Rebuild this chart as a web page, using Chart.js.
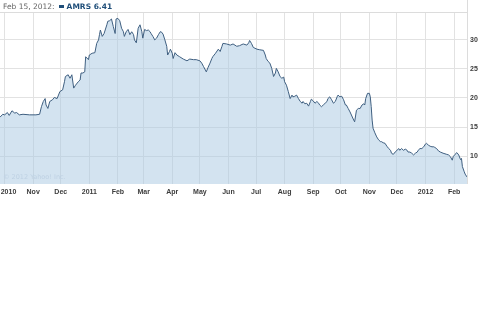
<!DOCTYPE html>
<html>
<head>
<meta charset="utf-8">
<script src="https://cdn.jsdelivr.net/npm/chart.js@4/dist/chart.umd.min.js"></script>
<style>
  body { margin: 0; background: #fff; width: 480px; height: 323px; overflow: hidden; font-family: "DejaVu Sans", Verdana, sans-serif; }
  #wrap { position: relative; width: 480px; height: 200px; }
  #head { position: absolute; left: 3px; top: 2px; font-size: 7.5px; color: #666; white-space: nowrap; }
  #head .sq { display: inline-block; width: 5px; height: 3px; background: #1f4e79; margin: 0 3px 1px 4px; vertical-align: middle; }
  #head b { color: #1f4e79; }
  #copy { position: absolute; left: 3px; top: 173px; font-size: 6.5px; color: #bed1e3; }
</style>
</head>
<body>
<div id="wrap">
  <canvas id="stockChart" width="480" height="200"></canvas>
  <div id="head">Feb 15, 2012:<span class="sq"></span><b>AMRS 6.41</b></div>
  <div id="copy">© 2012 Yahoo! Inc.</div>
</div>
<script>
// Days since 2010-10-01 and closing prices
var days = [-5, -2, 0, 3, 5, 8, 11, 13, 16, 20, 27, 34, 38, 40, 42, 44, 45, 47, 49, 52, 54, 57, 60, 63, 65, 66, 69, 71, 73, 75, 77, 80, 82, 83, 85, 87, 88, 91, 92, 95, 98, 100, 102, 103, 104, 106, 108, 111, 112, 114, 116, 118, 120, 121, 123, 125, 127, 129, 130, 132, 134, 136, 138, 140, 141, 143, 145, 147, 149, 150, 152, 154, 156, 158, 159, 161, 163, 165, 167, 169, 170, 172, 174, 176, 177, 179, 180, 182, 183, 185, 187, 190, 194, 198, 201, 205, 208, 212, 214, 216, 219, 221, 223, 225, 226, 229, 232, 234, 236, 237, 241, 245, 248, 252, 255,
  259, 263, 265, 266, 268, 270, 274, 277, 281, 283, 284, 286, 288, 290, 292, 294, 295, 297, 299, 301, 303, 304, 306, 308, 310, 312, 313, 315, 317, 319, 321, 323, 324, 326, 328, 330, 332, 333, 335, 337, 339, 341, 342, 344, 346, 348, 350, 351, 353, 355, 357, 359, 361, 362, 364, 366, 368, 370, 371, 373, 375, 377, 379, 380, 382, 384, 386, 388, 390, 391, 392, 394, 396, 397, 398, 399, 400, 402, 404, 406, 408, 409, 411, 413, 415, 417, 419, 420, 422, 424, 426, 428, 429, 431, 433, 435, 437, 438, 440, 442, 444, 446, 448, 449, 451, 453, 455, 457, 458, 460, 462, 464, 466, 467, 469, 471, 473, 476, 480, 482, 484, 486, 487, 489, 491, 493, 495, 496, 497, 499, 500, 502];
var prices = [16.7, 17.2, 17.1, 17.5, 17.0, 17.8, 17.4, 17.5, 17.1, 17.2, 17.1, 17.1, 17.2, 18.5, 19.4, 19.9, 18.8, 18.2, 19.4, 19.7, 20.1, 19.9, 21.1, 21.4, 22.8, 23.7, 24.0, 23.4, 24.0, 21.7, 22.2, 22.8, 23.1, 24.3, 24.3, 24.5, 27.1, 26.6, 27.4, 27.7, 27.8, 29.4, 30.0, 30.9, 31.7, 30.6, 31.1, 32.6, 33.2, 33.3, 33.6, 32.3, 31.1, 33.6, 33.7, 33.3, 32.0, 31.4, 30.6, 31.4, 31.8, 30.9, 31.4, 30.9, 30.0, 29.5, 32.0, 32.6, 31.4, 30.3, 31.8, 31.6, 31.7, 31.4, 31.1, 30.6, 30.0, 30.3, 30.9, 31.4, 31.4, 31.0, 30.0, 28.9, 27.4, 28.0, 28.4, 27.7, 26.8, 27.8, 27.4, 27.1, 26.7, 26.4, 26.7, 26.6, 26.6, 26.4, 26.0, 25.4, 24.5, 25.3, 26.0, 26.8, 27.1, 27.7, 28.4, 28.0, 28.9, 29.4, 29.3, 29.1, 29.3, 28.9, 29.0,
  29.3, 29.1, 29.5, 29.9, 29.4, 28.7, 28.4, 28.3, 28.2, 27.4, 26.8, 26.3, 26.0, 25.1, 23.7, 24.3, 25.1, 24.5, 23.7, 23.4, 23.6, 22.8, 22.2, 21.1, 19.9, 20.5, 20.2, 20.3, 20.5, 19.9, 19.4, 19.1, 19.4, 19.0, 19.1, 18.6, 19.4, 19.8, 19.5, 19.1, 19.4, 19.1, 18.8, 18.5, 18.8, 19.1, 19.4, 19.9, 20.2, 19.7, 19.1, 19.4, 20.2, 20.5, 20.2, 20.3, 19.7, 18.8, 18.8, 18.2, 17.6, 16.9, 16.2, 15.9, 17.9, 18.2, 18.2, 18.8, 19.0, 18.8, 19.9, 20.8, 20.8, 20.2, 18.5, 16.2, 14.8, 14.0, 13.3, 12.8, 12.5, 12.5, 12.3, 12.2, 11.7, 11.3, 11.0, 10.5, 10.3, 10.7, 11.0, 11.3, 11.0, 11.3, 11.0, 11.2, 11.0, 10.7, 10.7, 10.5, 10.2, 10.5, 10.7, 11.0, 11.3, 11.3, 11.6, 12.1, 12.2, 11.9, 11.7, 11.6, 11.6, 11.5, 11.3, 10.9, 10.7, 10.5, 10.3, 10.2, 9.9, 9.3, 9.9, 10.3, 10.6, 10.2, 9.4, 9.6, 8.2, 7.3, 6.9, 6.41];

// Month ticks (days since 2010-10-01) and their labels
var monthDays = [0, 31, 61, 92, 123, 151, 182, 212, 243, 273, 304, 335, 365, 396, 426, 457, 488];
var monthLabels = ["2010", "Nov", "Dec", "2011", "Feb", "Mar", "Apr", "May", "Jun", "Jul", "Aug", "Sep", "Oct", "Nov", "Dec", "2012", "Feb"];
var priceTicks = [10, 15, 20, 25, 30];

var points = days.map(function (d, i) { return { x: d, y: prices[i] }; });

// Light frame round the plot area
var framePlugin = {
    id: "frame",
    afterDraw: function (chart) {
        var a = chart.chartArea, ctx = chart.ctx;
        ctx.save();
        ctx.strokeStyle = "#dcdcdc";
        ctx.lineWidth = 1;
        ctx.beginPath();
        ctx.moveTo(a.left, a.top + 0.5);
        ctx.lineTo(a.right + 0.5, a.top + 0.5);
        ctx.moveTo(a.right + 0.5, 0);
        ctx.lineTo(a.right + 0.5, a.bottom);
        ctx.stroke();
        ctx.restore();
    }
};

var tickFont = { family: "'Liberation Sans', Arial, sans-serif", size: 7, weight: "bold" };

var ctx = document.getElementById("stockChart").getContext("2d");
var stockChart = new Chart(ctx, {
    type: "line",
    data: {
        datasets: [{
            data: points,
            borderColor: "#3f5f80",
            borderWidth: 1,
            backgroundColor: "rgba(168, 199, 226, 0.5)",
            fill: "start",
            pointRadius: 0,
            tension: 0
        }]
    },
    options: {
        responsive: false,
        animation: false,
        layout: { padding: { top: 12, left: 0, right: 0, bottom: 0 } },
        plugins: { legend: { display: false }, tooltip: { enabled: false } },
        scales: {
            x: {
                type: "linear",
                min: -5,
                max: 502,
                afterBuildTicks: function (scale) {
                    scale.ticks = monthDays.map(function (d) { return { value: d }; });
                },
                afterFit: function (scale) {
                    scale.height = 16;
                    scale.paddingLeft = 0;
                    scale.paddingRight = 0;
                },
                grid: { color: "#e2e2e2", drawTicks: false },
                border: { display: false },
                ticks: {
                    autoSkip: false,
                    maxRotation: 0,
                    padding: 4,
                    color: "#3c3c3c",
                    font: tickFont,
                    callback: function (value) {
                        var i = monthDays.indexOf(value);
                        if (i < 0) return "";
                        // first label sits at the left edge, nudge it inside
                        return i === 0 ? "\u00a0\u00a0\u00a0\u00a0" + monthLabels[i] : monthLabels[i];
                    }
                }
            },
            y: {
                position: "right",
                min: 5.2,
                max: 34.8,
                afterBuildTicks: function (scale) {
                    scale.ticks = priceTicks.map(function (v) { return { value: v }; });
                },
                afterFit: function (scale) {
                    scale.width = 13;
                    scale.paddingTop = 0;
                    scale.paddingBottom = 0;
                },
                grid: { color: "#e2e2e2", drawTicks: false },
                border: { display: false },
                ticks: {
                    padding: 3,
                    color: "#3c3c3c",
                    font: tickFont
                }
            }
        }
    },
    plugins: [framePlugin]
});
</script>
</body>
</html>
